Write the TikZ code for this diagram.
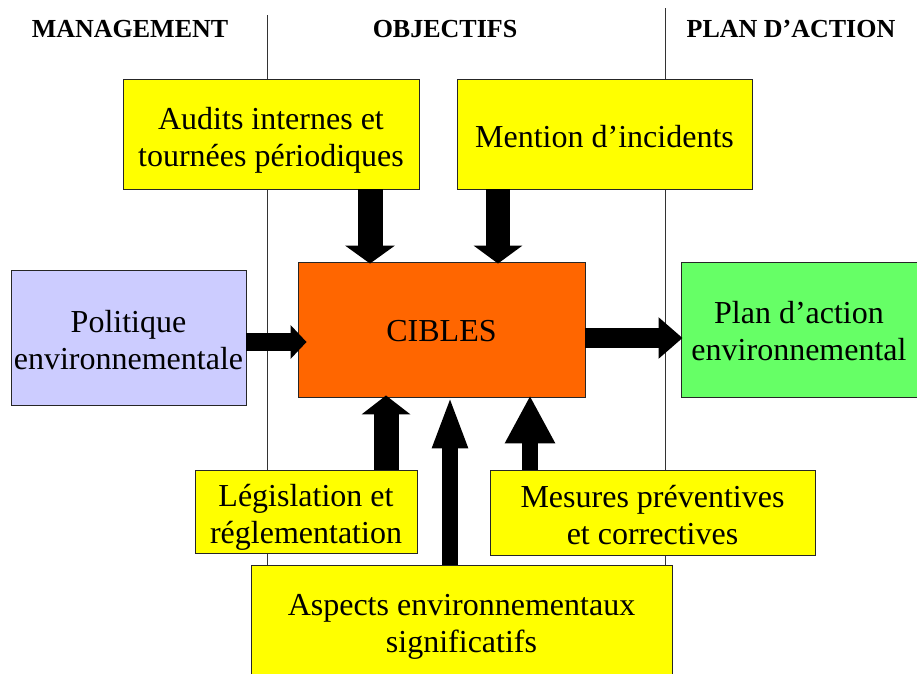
\documentclass[tikz,border=0pt]{standalone}
\usepackage{fontspec}
\setmainfont{Liberation Serif}
\usetikzlibrary{arrows.meta}
\definecolor{ylw}{HTML}{FFFF00}
\definecolor{org}{HTML}{FF6600}
\definecolor{lav}{HTML}{CCCCFF}
\definecolor{grn}{HTML}{66FF66}
\tikzset{
  box/.style={draw=black!85, line width=0.9pt, inner sep=0pt},
  txt/.style={inner sep=0pt, align=center, font=\fontsize{32}{37}\selectfont},
  hdr/.style={font=\fontsize{26}{30}\selectfont\bfseries, inner sep=0pt},
  sep/.style={draw=black!80, line width=0.8pt},
  fat/.style={draw=black, line width=#1, shorten >=-2pt},
}
\begin{document}
\begin{tikzpicture}[x=1pt,y=-1pt]
\useasboundingbox (0,0) rectangle (917,673);
\fill[white] (0,0) rectangle (917,673);
% headers
\node[hdr] (hm) at (130,29) {MANAGEMENT};
\node[hdr] (ho) at (445,29) {OBJECTIFS};
\node[hdr] (hp) at (791,29) {PLAN D’ACTION};
% separators
\coordinate (s1t) at (267,15);
\coordinate (s1b) at (267,566);
\coordinate (s2t) at (665,8);
\coordinate (s2b) at (665,566);
\draw[sep] (s1t) -- (s1b);
\draw[sep] (s2t) -- (s2b);
% boxes
\node[box, fill=ylw, minimum width=296, minimum height=110] (audits) at (271,134) {};
\node[box, fill=ylw, minimum width=295, minimum height=110] (mention) at (604.5,134) {};
\node[box, fill=lav, minimum width=235, minimum height=135] (pol) at (128.5,337.5) {};
\node[box, fill=org, minimum width=287, minimum height=135] (cibles) at (441.5,329.5) {};
\node[box, fill=grn, minimum width=236, minimum height=135] (plan) at (799,329.5) {};
\node[box, fill=ylw, minimum width=222, minimum height=83] (leg) at (306,511.5) {};
\node[box, fill=ylw, minimum width=325, minimum height=85] (mes) at (652.5,512.5) {};
\node[box, fill=ylw, minimum width=421, minimum height=118] (asp) at (461.5,624) {};
% texts
\node[txt] (auditsT) at ([yshift=-6pt]audits.center) {Audits internes et\\tournées périodiques};
\node[txt] (mentionT) at ([yshift=-3pt]mention.center) {Mention d’incidents};
\node[txt] (polT) at ([yshift=-2.5pt]pol.center) {Politique\\environnementale};
\node[txt] (ciblesT) at ([yshift=-2pt]cibles.center) {CIBLES};
\node[txt] (planT) at ([yshift=-2pt]plan.center) {Plan d’action\\environnemental};
\node[txt] (legT) at ([yshift=-6pt]leg.center) {Législation et\\réglementation};
\node[txt] (mesT) at ([yshift=-3pt]mes.center) {Mesures préventives\\et correctives};
\node[txt] (aspT) at ([yshift=-2.5pt]asp.center) {Aspects environnementaux\\significatifs};
% arrows
\draw[fat=25pt, -{Triangle[width=49pt,length=18pt]}] ([xshift=99pt]audits.south) -- ([xshift=-71.5pt]cibles.north);
\draw[fat=24pt, -{Triangle[width=48pt,length=18pt]}] ([xshift=-106.5pt]mention.south) -- ([xshift=56.5pt]cibles.north);
\draw[fat=25pt, -{Triangle[width=48pt,length=19pt]}] ([xshift=80pt]leg.north) -- ([xshift=-55.5pt]cibles.south);
\draw[fat=16pt, -{Triangle[width=32pt,length=53pt]}] ([xshift=-11.5pt]asp.north) -- ([xshift=8.5pt]cibles.south);
\draw[fat=16pt, -{Triangle[width=47pt,length=48pt]}] ([xshift=-122.5pt]mes.north) -- ([xshift=88.5pt]cibles.south);
\draw[fat=18pt, -{Triangle[width=33pt,length=16pt]}] ([yshift=-4.5pt]pol.east) -- ([xshift=7pt,yshift=-12.5pt]cibles.west);
\draw[fat=20pt, -{Triangle[width=40pt,length=24pt]}] ([yshift=-8.5pt]cibles.east) -- ([yshift=-8.5pt]plan.west);
\end{tikzpicture}
\end{document}
